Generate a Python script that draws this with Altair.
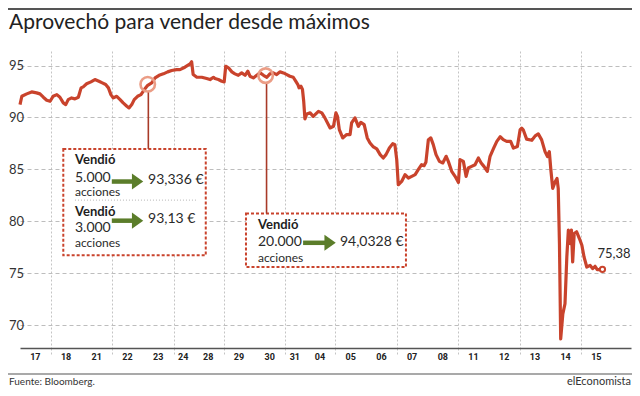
import altair as alt
import pandas as pd
import numpy as np

# ---------------- data ----------------
title_text = "Aprovechó para vender desde máximos"
source_text = "Fuente: Bloomberg."
brand_text = "elEconomista"

day_labels = ["17", "18", "21", "22", "23", "24", "28", "29", "30", "31",
              "04", "05", "06", "07", "08", "11", "12", "13", "14", "15"]
# length of each session (24 and 31 are half sessions)
day_lengths = [1, 1, 1, 1, 1, 0.63, 1, 1, 1, 0.64,
               1, 1, 1, 1, 1, 1, 1, 1, 1, 1]

# time in trading sessions since start, and price
t_values = [0.00, 0.06, 0.22, 0.38, 0.54, 0.65, 0.76, 0.87, 0.98, 1.08,
            1.20, 1.30, 1.41, 1.49, 1.57, 1.68, 1.79, 1.90, 1.99, 2.06,
            2.17, 2.31, 2.44, 2.57, 2.68, 2.79, 2.88, 2.96, 3.04, 3.15,
            3.26, 3.36, 3.48, 3.55, 3.64, 3.72, 3.83, 3.94, 4.05, 4.16,
            4.29, 4.40, 4.53, 4.67, 4.81, 4.94, 5.10, 5.21, 5.37, 5.54,
            5.59, 5.64, 5.76, 5.92, 6.08, 6.19, 6.30, 6.35, 6.46, 6.57,
            6.65, 6.70, 6.79, 6.90, 7.00, 7.11, 7.22, 7.33, 7.42, 7.49,
            7.60, 7.71, 7.82, 7.93, 8.04, 8.14, 8.25, 8.36, 8.47, 8.58,
            8.69, 8.79, 8.90, 8.98, 9.05, 9.09, 9.15, 9.20, 9.24, 9.28,
            9.34, 9.45, 9.55, 9.72, 9.83, 9.93, 10.10, 10.21, 10.29, 10.34,
            10.40, 10.51, 10.64, 10.75, 10.80, 10.91, 11.02, 11.10, 11.21, 11.31,
            11.40, 11.51, 11.62, 11.73, 11.83, 11.92, 12.03, 12.14, 12.21, 12.27,
            12.32, 12.43, 12.54, 12.65, 12.76, 12.87, 12.97, 13.08, 13.16, 13.22,
            13.30, 13.38, 13.46, 13.55, 13.66, 13.77, 13.88, 13.95, 14.06, 14.17,
            14.28, 14.33, 14.44, 14.53, 14.60, 14.71, 14.82, 14.93, 15.02, 15.11,
            15.22, 15.31, 15.42, 15.53, 15.64, 15.74, 15.85, 15.98, 16.07, 16.20,
            16.29, 16.34, 16.39, 16.50, 16.67, 16.78, 16.88, 16.99, 17.10, 17.18,
            17.24, 17.29, 17.35, 17.43, 17.49, 17.53, 17.57, 17.61, 17.68, 17.75,
            17.81, 17.86, 17.92, 17.96, 18.00, 18.05, 18.13, 18.22, 18.30, 18.37,
            18.46, 18.57, 18.65, 18.73, 18.80, 18.89, 18.97]
prices = [91.24, 92.04, 92.27, 92.46, 92.37, 92.27, 91.95, 91.66, 91.56, 92.04,
          92.20, 91.95, 91.40, 91.24, 91.72, 91.88, 91.79, 91.95, 92.85, 92.95,
          93.24, 93.43, 93.65, 93.49, 93.33, 93.17, 92.85, 92.20, 91.88, 92.04,
          91.72, 91.40, 91.08, 90.92, 91.24, 91.72, 92.04, 92.20, 92.69, 93.10,
          93.33, 93.81, 94.06, 94.20, 94.39, 94.52, 94.61, 94.61, 94.84, 95.16,
          95.36, 94.13, 93.87, 93.87, 93.75, 93.65, 93.87, 93.75, 93.65, 93.49,
          93.43, 94.93, 94.78, 94.39, 94.20, 94.06, 94.29, 94.06, 94.45, 93.97,
          93.81, 94.06, 94.29, 94.06, 93.87, 94.20, 94.29, 94.13, 94.39, 94.29,
          94.13, 93.97, 93.87, 93.49, 93.17, 92.85, 93.00, 92.69, 91.56, 89.86,
          90.34, 90.44, 90.11, 90.59, 90.44, 89.96, 88.99, 89.15, 90.44, 90.11,
          88.83, 88.03, 88.35, 88.35, 89.47, 89.96, 89.15, 89.53, 89.31, 88.03,
          87.55, 87.16, 86.97, 86.42, 86.10, 86.42, 87.06, 87.48, 87.38, 85.94,
          83.52, 83.84, 84.49, 84.17, 84.33, 84.49, 84.97, 85.45, 85.36, 85.68,
          87.86, 88.03, 87.38, 86.42, 85.77, 85.62, 86.26, 85.77, 84.81, 84.33,
          83.75, 85.94, 85.77, 84.33, 85.13, 85.29, 85.45, 86.10, 85.62, 85.29,
          84.81, 86.26, 87.00, 87.70, 88.14, 87.86, 87.70, 87.70, 87.05, 87.21,
          88.83, 88.97, 88.81, 87.91, 87.80, 88.23, 88.42, 87.84, 86.71, 86.23,
          86.71, 84.94, 83.17, 83.81, 84.13, 83.17, 77.85, 68.67, 71.09, 72.06,
          76.57, 79.15, 77.85, 79.15, 76.09, 78.83, 78.99, 78.34, 77.69, 76.57,
          75.60, 75.76, 75.44, 75.67, 75.34, 75.34, 75.38]

y_ticks = [70, 75, 80, 85, 90, 95]

# sales markers
sale_t = [4.16, 8.00]
sale_price = [93.20, 94.03]
last_t = [18.97]
last_price = [75.38]
last_label = ["75,38"]

# annotation boxes
box_t1 = [1.41, 7.36]
box_t2 = [6.05, 12.57]
box_top = [86.97, 80.75]
box_bottom = [76.72, 75.59]
connector_t = [4.18, 8.03]
connector_from = [92.48, 93.31]

bold_txt = ["Vendió", "Vendió", "Vendió"]
bold_t = [1.79, 1.79, 7.75]
bold_v = [85.91, 80.88, 79.62]

big_txt = ["5.000", "93,336 €", "93,13 €", "3.000", "20.000", "94,0328 €"]
big_t = [1.79, 4.17, 4.17, 1.79, 7.75, 10.42]
big_v = [84.15, 83.97, 80.20, 79.32, 78.05, 77.98]

small_txt = ["acciones", "acciones", "acciones"]
small_t = [1.79, 1.79, 7.75]
small_v = [82.85, 77.92, 76.47]

arrow_t1 = [2.99, 2.99, 9.22]
arrow_t2 = [3.70, 3.70, 9.95]
arrow_head = [3.83, 3.83, 10.10]
arrow_v = [83.83, 80.06, 77.93]

sep_t1, sep_t2, sep_v = [1.79], [5.77], [82.04]

# ---------------- layout ----------------
W, H = 611, 297
XMAX = 19.9
YMIN, YMAX = 67.8, 96.4
RED = "#c9432c"
GREEN = "#5b7d2a"
TXT = "#2a2a2a"
FONT = "Lato"

bounds = list(np.cumsum(day_lengths))
inner_bounds = bounds[:-1]
starts = [0] + bounds[:-1]
mids = [s + l / 2 for s, l in zip(starts, day_lengths)]

xs = alt.Scale(domain=[0, XMAX], nice=False, zero=False)
ys = alt.Scale(domain=[YMIN, YMAX], nice=False, zero=False)

line_df = pd.DataFrame({"t": t_values, "p": prices})

base_axes = alt.Chart(line_df).mark_line(
    color=RED, strokeWidth=3.2, strokeJoin="round"
).encode(
    x=alt.X("t:Q", scale=xs, axis=alt.Axis(
        values=inner_bounds, labels=False, title=None,
        grid=True, gridDash=[2, 2], gridColor="#c4c4c4", gridWidth=1,
        ticks=True, tickSize=6, tickDash=[2, 2], tickColor="#c4c4c4",
        domain=True, domainColor="#555555", domainWidth=1.5)),
    y=alt.Y("p:Q", scale=ys, axis=alt.Axis(
        values=y_ticks, title=None, grid=True, gridDash=[4, 3],
        gridColor="#bdbdbd", gridWidth=1, domain=False, ticks=False,
        tickSize=0, labelAlign="left", labelPadding=11.5, labelFontSize=13,
        labelFont=FONT, labelColor="#333333", labelBaseline="middle")),
)

lab_df = pd.DataFrame({"t": mids, "lab": day_labels})
xlabels = alt.Chart(lab_df).mark_text(
    fontSize=9, fontWeight="bold", font="Liberation Sans Narrow, Roboto",
    color="#222222", baseline="middle"
).encode(x=alt.X("t:Q", scale=xs), y=alt.value(H + 9), text="lab:N")

box_df = pd.DataFrame({"t1": box_t1, "t2": box_t2, "top": box_top, "bot": box_bottom})
boxes = alt.Chart(box_df).mark_rect(
    fill="white", stroke=RED, strokeDash=[3, 2], strokeWidth=2
).encode(x=alt.X("t1:Q", scale=xs), x2="t2:Q",
         y=alt.Y("top:Q", scale=ys), y2="bot:Q")

con_df = pd.DataFrame({"t": connector_t, "a": connector_from, "b": box_top})
connectors = alt.Chart(con_df).mark_rule(color="#a83a28", strokeWidth=1.6).encode(
    x=alt.X("t:Q", scale=xs), y=alt.Y("a:Q", scale=ys), y2="b:Q")

sale_df = pd.DataFrame({"t": sale_t, "p": sale_price})
sales = alt.Chart(sale_df).mark_point(
    shape="circle", filled=False, size=210, strokeWidth=2.6, color="#eb9d86", opacity=1
).encode(x=alt.X("t:Q", scale=xs), y=alt.Y("p:Q", scale=ys))

last_df = pd.DataFrame({"t": last_t, "p": last_price, "lab": last_label})
last_pt = alt.Chart(last_df).mark_point(
    shape="circle", filled=True, fill="white", stroke=RED, strokeWidth=2,
    size=28, opacity=1
).encode(x=alt.X("t:Q", scale=xs), y=alt.Y("p:Q", scale=ys))
last_txt = alt.Chart(last_df).mark_text(
    align="left", baseline="middle", dx=-5, dy=-15, fontSize=13, font=FONT, color=TXT
).encode(x=alt.X("t:Q", scale=xs), y=alt.Y("p:Q", scale=ys), text="lab:N")

sep_df = pd.DataFrame({"a": sep_t1, "b": sep_t2, "v": sep_v})
sep = alt.Chart(sep_df).mark_rule(color="#b5b5b5", strokeDash=[1, 2], strokeWidth=1).encode(
    x=alt.X("a:Q", scale=xs), x2="b:Q", y=alt.Y("v:Q", scale=ys))

arr_df = pd.DataFrame({"a": arrow_t1, "b": arrow_t2, "h": arrow_head, "v": arrow_v})
shafts = alt.Chart(arr_df).mark_rule(color=GREEN, strokeWidth=4.5).encode(
    x=alt.X("a:Q", scale=xs), x2="b:Q", y=alt.Y("v:Q", scale=ys))
heads = alt.Chart(arr_df).mark_point(
    shape="M-0.7,-1L0.7,0L-0.7,1Z", filled=True, color=GREEN, size=260, opacity=1
).encode(x=alt.X("h:Q", scale=xs), y=alt.Y("v:Q", scale=ys))

bold_df = pd.DataFrame({"t": bold_t, "v": bold_v, "s": bold_txt})
bold_layer = alt.Chart(bold_df).mark_text(
    align="left", baseline="middle", fontSize=13, fontWeight="bold", font=FONT, color="#1e1e1e"
).encode(x=alt.X("t:Q", scale=xs), y=alt.Y("v:Q", scale=ys), text="s:N")

big_df = pd.DataFrame({"t": big_t, "v": big_v, "s": big_txt})
big_layer = alt.Chart(big_df).mark_text(
    align="left", baseline="middle", fontSize=14, font=FONT, color=TXT
).encode(x=alt.X("t:Q", scale=xs), y=alt.Y("v:Q", scale=ys), text="s:N")

small_df = pd.DataFrame({"t": small_t, "v": small_v, "s": small_txt})
small_layer = alt.Chart(small_df).mark_text(
    align="left", baseline="middle", fontSize=12, font=FONT, color=TXT
).encode(x=alt.X("t:Q", scale=xs), y=alt.Y("v:Q", scale=ys), text="s:N")

title_df = pd.DataFrame({"s": [title_text]})
title_layer = alt.Chart(title_df).mark_text(
    align="left", baseline="alphabetic", fontSize=21, font=FONT, color="#222222"
).encode(x=alt.value(-11), y=alt.value(-22), text="s:N")

top_rule = alt.Chart(title_df).mark_rule(color="#555555", strokeWidth=2).encode(
    x=alt.value(-12), x2=alt.value(W + 1), y=alt.value(-42))
foot_rule = alt.Chart(title_df).mark_rule(color="#555555", strokeWidth=1.2).encode(
    x=alt.value(-12), x2=alt.value(W + 1), y=alt.value(H + 26))

src_df = pd.DataFrame({"s": [source_text]})
src_layer = alt.Chart(src_df).mark_text(
    align="left", baseline="middle", fontSize=10, font=FONT, color="#333333"
).encode(x=alt.value(-11), y=alt.value(H + 34), text="s:N")
brand_df = pd.DataFrame({"s": [brand_text]})
brand_layer = alt.Chart(brand_df).mark_text(
    align="right", baseline="middle", fontSize=11, font=FONT, color="#333333"
).encode(x=alt.value(W + 0), y=alt.value(H + 34), text="s:N")

chart = alt.layer(
    base_axes, boxes, connectors, sep, shafts, heads, bold_layer, big_layer,
    small_layer, sales, last_pt, last_txt, xlabels, title_layer, top_rule,
    foot_rule, src_layer, brand_layer
).properties(
    width=W, height=H,
    autosize=alt.AutoSizeParams(type="none"),
    padding={"left": 12, "top": 43, "right": 1, "bottom": 40},
    background="white",
).configure_view(stroke=None)

chart.save("out.html", embed_options={"renderer": "svg", "actions": False})
